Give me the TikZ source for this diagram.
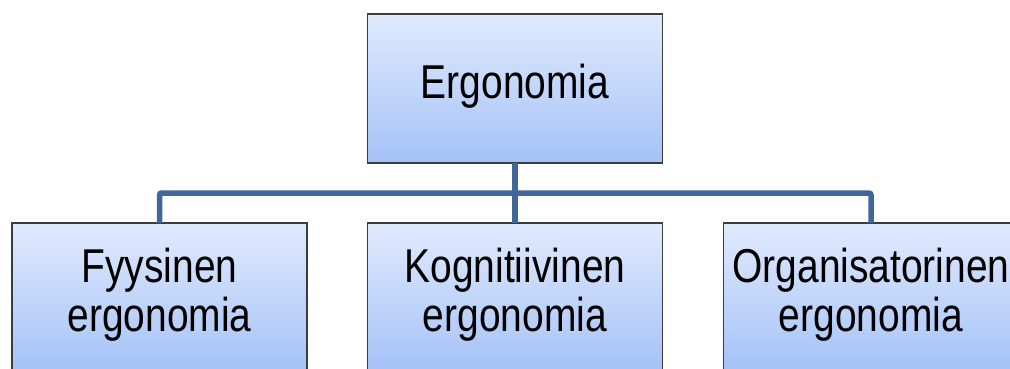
\documentclass[tikz,border=0pt]{standalone}
\usepackage{fontspec}
\setmainfont{Liberation Sans}
\definecolor{boxtop}{HTML}{E0EAFD}
\definecolor{boxbot}{HTML}{A4C2F7}
\definecolor{boxline}{HTML}{3C3C3C}
\definecolor{conncol}{HTML}{41679A}
\newcommand\lbl[1]{\raisebox{-2.5pt}{\scalebox{0.82}[1]{\fontsize{47.5}{49}\selectfont\begin{tabular}{@{}c@{}}#1\end{tabular}}}}
\tikzset{
  box/.style={draw=boxline, line width=1.2pt, top color=boxtop, bottom color=boxbot,
    minimum width=295pt, minimum height=149pt, inner sep=0pt, outer sep=0pt},
  conn/.style={draw=conncol, line width=5.5pt, rounded corners=2pt}
}
\begin{document}
\begin{tikzpicture}[x=1pt,y=-1pt]
\useasboundingbox (0,0) rectangle (1010,368);
\clip (0,0) rectangle (1010,368);
\node[box] (top) at (515,88.5) {\lbl{Ergonomia}};
\node[box] (b1) at (159.5,297.5) {\lbl{Fyysinen\\ergonomia}};
\node[box] (b2) at (515,297.5) {\lbl{Kognitiivinen\\ergonomia}};
\node[box] (b3) at (871,297.5) {\lbl{Organisatorinen\\ergonomia}};
\draw[conn] (b1.north) -- ++(0,-30) -| (b3.north);
\draw[conn] (top.south) -- (b2.north);
\end{tikzpicture}
\end{document}
